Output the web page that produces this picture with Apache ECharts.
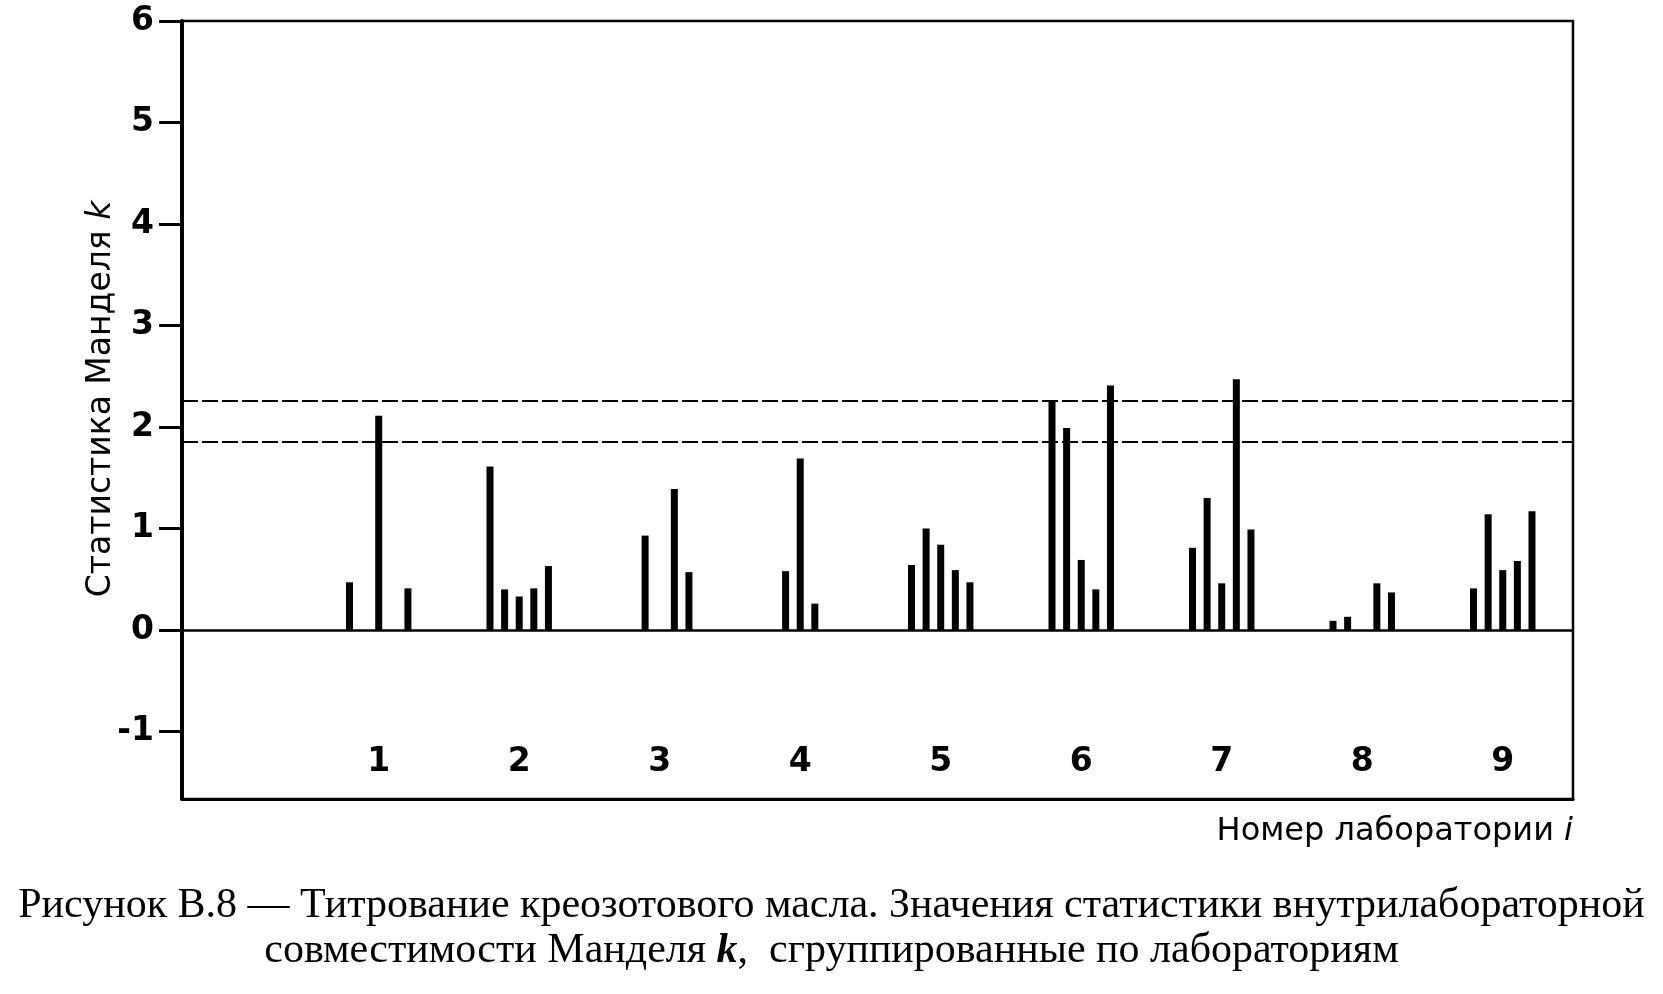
<!DOCTYPE html>
<html>
<head>
<meta charset="utf-8">
<script src="https://cdn.jsdelivr.net/npm/echarts@6/dist/echarts.min.js"></script>
<style>html,body{margin:0;padding:0;background:#fff}#c{width:1663px;height:994px}</style>
</head>
<body>
<div id="c"></div>
<script>
// Laboratories and Mandel k values per level (slot within group)
var labs = [1, 2, 3, 4, 5, 6, 7, 8, 9];
var level1 = [0.47, 1.61, 0,    0,    0.64, 2.25, 0.81, 0.09, 0.41];
var level2 = [0,    0.40, 0.93, 0.58, 1.00, 1.99, 1.30, 0.13, 1.14];
var level3 = [2.11, 0.33, 0,    1.69, 0.84, 0.69, 0.46, 0,    0.59];
var level4 = [0,    0.41, 1.39, 0.26, 0.59, 0.40, 2.47, 0.46, 0.68];
var level5 = [0.41, 0.63, 0.57, 0,    0.47, 2.41, 0.99, 0.37, 1.17];
var criticalK = [2.26, 1.85];
var yTicks = [-1, 0, 1, 2, 3, 4, 5, 6];

var levels = [level1, level2, level3, level4, level5];
var slotStep = 0.104;
var barData = [];
labs.forEach(function (lab, i) {
  levels.forEach(function (lv, s) {
    barData.push([lab + (s - 2) * slotStep, lv[i]]);
  });
});

var chart = echarts.init(document.getElementById('c'));
var axisFont = 'DejaVu Sans';
chart.setOption({
  animation: false,
  backgroundColor: '#fff',
  grid: {
    left: 182, right: 90, top: 21, bottom: 195,
    show: true, borderColor: '#000', borderWidth: 2.5, backgroundColor: 'transparent'
  },
  xAxis: {
    type: 'value', min: -0.4, max: 9.5,
    splitLine: { show: false },
    axisLine: { show: true, onZero: false, lineStyle: { color: '#000', width: 3 } },
    axisTick: { show: false },
    axisLabel: {
      inside: true, margin: 20,
      customValues: labs,
      color: '#000', fontFamily: axisFont, fontWeight: 'bold', fontSize: 33
    }
  },
  yAxis: {
    type: 'value', min: -1.665, max: 6,
    splitLine: { show: false },
    axisLine: { show: true, onZero: false, lineStyle: { color: '#000', width: 4 } },
    axisTick: { show: true, customValues: yTicks, length: 23, lineStyle: { color: '#000', width: 3 } },
    axisLabel: {
      customValues: yTicks, margin: 28,
      color: '#000', fontFamily: axisFont, fontWeight: 'bold', fontSize: 33
    }
  },
  series: [{
    type: 'bar',
    data: barData,
    barWidth: 7,
    itemStyle: { color: '#000' },
    silent: true,
    markLine: {
      silent: true, symbol: 'none', label: { show: false },
      data: [
        { yAxis: 0, lineStyle: { type: 'solid', color: '#000', width: 2.5 } },
        { yAxis: criticalK[0], lineStyle: { type: [16, 4], color: '#000', width: 2 } },
        { yAxis: criticalK[1], lineStyle: { type: [16, 4], color: '#000', width: 2 } }
      ]
    }
  }],
  graphic: [
    {
      type: 'text', x: 101, y: 399, rotation: Math.PI / 2,
      style: {
        text: 'Статистика Манделя {i|k}',
        fill: '#000', font: '33px "DejaVu Sans"',
        align: 'center', verticalAlign: 'middle',
        rich: { i: { fontStyle: 'italic', fontFamily: 'DejaVu Sans', fontSize: 33, fill: '#000' } }
      }
    },
    {
      type: 'text', right: 90, top: 816,
      style: {
        text: 'Номер лаборатории {i|i}',
        fill: '#000', font: '32px "DejaVu Sans"',
        rich: { i: { fontStyle: 'italic', fontFamily: 'DejaVu Sans', fontSize: 32, fill: '#000' } }
      }
    },
    {
      type: 'text', left: 'center', top: 885,
      style: {
        text: 'Рисунок В.8 — Титрование креозотового масла. Значения статистики внутрилабораторной',
        fill: '#000', font: '42px "Liberation Serif"'
      }
    },
    {
      type: 'text', left: 'center', top: 930,
      style: {
        text: 'совместимости Манделя {b|k},  сгруппированные по лабораториям',
        fill: '#000', font: '42px "Liberation Serif"',
        rich: { b: { fontStyle: 'italic', fontWeight: 'bold', fontFamily: 'Liberation Serif', fontSize: 42, fill: '#000' } }
      }
    }
  ]
});
</script>
</body>
</html>
